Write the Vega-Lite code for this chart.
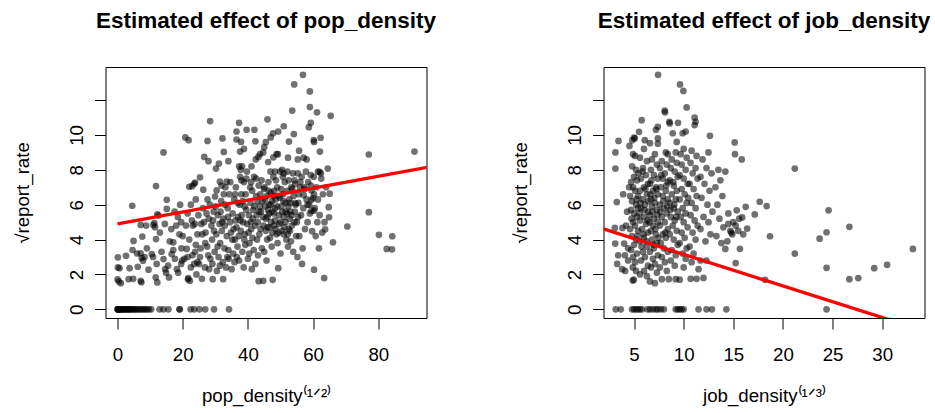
{
"$schema": "https://vega.github.io/schema/vega-lite/v6.json",
"background": "white",
"padding": {"left": 12.5, "top": 9, "right": 2, "bottom": 5},
"spacing": 73,
"config": {
 "font": "Liberation Sans",
 "view": {"stroke": "black", "strokeWidth": 1},
 "axis": {"domain": false, "grid": false, "tickColor": "black", "tickSize": 11, "labelFont": "Liberation Sans", "labelFontSize": 18.7, "labelColor": "black", "titleFont": "Liberation Sans", "titleFontSize": 18.7, "titleFontWeight": "normal", "titleColor": "black"},
 "axisY": {"labelAngle": -90, "labelAlign": "center", "labelBaseline": "alphabetic", "labelPadding": 12, "minExtent": 50, "maxExtent": 50, "titlePadding": 23},
 "axisX": {"labelPadding": 16, "minExtent": 46, "maxExtent": 46, "titlePadding": 22},
 "title": {"font": "Liberation Sans", "fontSize": 22.5, "fontWeight": "bold", "color": "black", "anchor": "middle", "frame": "group", "baseline": "alphabetic", "offset": 34.5}
},
"datasets": {
 "pop": [
{"x":0,"y":0},{"x":0.05,"y":0},{"x":0.1,"y":0},{"x":0.2,"y":0},{"x":0.4,"y":0},{"x":0.6,"y":0},{"x":0.8,"y":0},{"x":1.0,"y":0},{"x":1.3,"y":0},{"x":1.6,"y":0},{"x":1.9,"y":0},{"x":2.2,"y":0},{"x":2.5,"y":0},{"x":2.8,"y":0},{"x":3.1,"y":0},{"x":3.4,"y":0},{"x":3.7,"y":0},{"x":4.0,"y":0},{"x":4.4,"y":0},{"x":4.8,"y":0},{"x":5.2,"y":0},{"x":5.6,"y":0},{"x":6.0,"y":0},{"x":6.5,"y":0},{"x":7.0,"y":0},{"x":7.5,"y":0},{"x":8.0,"y":0},{"x":8.5,"y":0},{"x":9.0,"y":0},{"x":9.6,"y":0},{"x":10.3,"y":0},{"x":12.9,"y":0},{"x":14.1,"y":0},{"x":15.6,"y":0},{"x":19.0,"y":0},{"x":19.1,"y":0},{"x":22.4,"y":0},{"x":23.5,"y":0},{"x":25.1,"y":0},{"x":26.9,"y":0},{"x":29.6,"y":0},{"x":34.2,"y":0},
{"x":0.1,"y":2.98},{"x":0.1,"y":2.4},{"x":0.6,"y":2.36},{"x":0,"y":1.71},{"x":0.4,"y":1.6},{"x":1.0,"y":1.5},{"x":2.6,"y":3.07},{"x":3.7,"y":2.36},{"x":3.4,"y":1.73},{"x":4.8,"y":1.75},{"x":4.6,"y":3.4},{"x":4.5,"y":5.94},{"x":4.9,"y":3.92},
{"x":7.1,"y":4.84},{"x":7.6,"y":4.17},{"x":7.1,"y":3.21},{"x":7.4,"y":2.94},{"x":7.8,"y":2.79},{"x":6.2,"y":2.44},{"x":7.1,"y":1.63},{"x":7.3,"y":1.55},{"x":9.5,"y":2.27},{"x":8.8,"y":4.8},{"x":8.3,"y":3.0},{"x":9.0,"y":3.5},{"x":6.0,"y":3.2},
{"x":11.8,"y":7.07},{"x":12.2,"y":5.44},{"x":11.5,"y":4.71},{"x":11.0,"y":4.84},{"x":11.3,"y":4.95},{"x":11.8,"y":4.03},{"x":10.5,"y":3.17},{"x":10.9,"y":3.0},{"x":12.0,"y":2.6},{"x":11.7,"y":1.83},{"x":12.2,"y":1.54},{"x":14.1,"y":9.0},{"x":14.1,"y":2.88},{"x":14.6,"y":2.3},{"x":14.9,"y":2.1},{"x":13.5,"y":3.3},{"x":12.6,"y":5.38},{"x":13.0,"y":4.4},{"x":14.5,"y":4.9},
{"x":15.1,"y":6.28},{"x":15.1,"y":5.76},{"x":15.8,"y":1.83},{"x":16.6,"y":3.17},{"x":17.1,"y":3.4},{"x":17.1,"y":3.84},{"x":17.6,"y":2.9},{"x":18.2,"y":2.3},{"x":18.6,"y":2.1},{"x":19.5,"y":2.6},{"x":19.8,"y":2.8},{"x":16.0,"y":3.9},{"x":18.0,"y":4.8},{"x":18.5,"y":5.3},{"x":19.0,"y":4.3},{"x":19.5,"y":5.0},{"x":16.5,"y":4.6},{"x":17.5,"y":5.6},{"x":19.2,"y":6.0},{"x":15.5,"y":2.5},{"x":19.6,"y":3.5},
{"x":20.8,"y":9.86},{"x":21.8,"y":9.7},{"x":22.0,"y":7.03},{"x":23.5,"y":7.2},{"x":21.2,"y":3.46},{"x":21.7,"y":1.79},{"x":22.2,"y":1.63},{"x":21.6,"y":1.72},{"x":23.1,"y":4.8},{"x":23.7,"y":4.9},{"x":21.0,"y":4.8},{"x":21.5,"y":5.5},{"x":22.5,"y":6.0},{"x":22.0,"y":4.0},{"x":23.0,"y":3.1},{"x":23.5,"y":2.6},{"x":24.0,"y":3.7},{"x":24.5,"y":4.3},{"x":22.5,"y":2.4},{"x":24.2,"y":2.0},{"x":20.5,"y":2.9},{"x":24.8,"y":5.4},{"x":24.0,"y":6.3},{"x":20.0,"y":4.2},{"x":22.8,"y":5.1},{"x":23.8,"y":3.3},{"x":21.5,"y":3.0},{"x":24.5,"y":2.7},{"x":22.9,"y":7.06},{"x":23.8,"y":7.27},
{"x":25.3,"y":7.57},{"x":26.3,"y":6.86},{"x":26.6,"y":8.74},{"x":27.9,"y":8.5},{"x":27.6,"y":9.66},{"x":28.4,"y":10.8},{"x":29.9,"y":6.47},{"x":25.9,"y":1.75},{"x":29.2,"y":1.73},{"x":25.5,"y":3.5},{"x":26.0,"y":4.3},{"x":26.5,"y":5.0},{"x":27.0,"y":4.4},{"x":27.5,"y":3.6},{"x":28.0,"y":5.2},{"x":28.5,"y":2.9},{"x":29.0,"y":4.0},{"x":29.5,"y":5.6},{"x":25.0,"y":2.6},{"x":26.8,"y":2.4},{"x":27.8,"y":3.1},{"x":28.8,"y":4.8},{"x":29.8,"y":3.3},{"x":26.2,"y":5.8},{"x":28.3,"y":6.0},{"x":29.3,"y":5.1},{"x":25.7,"y":4.9},{"x":27.3,"y":5.5},{"x":29.6,"y":4.5},{"x":26.9,"y":3.8},{"x":28.1,"y":2.3},{"x":29.1,"y":2.6},{"x":25.3,"y":3.0},{"x":27.6,"y":6.3},
{"x":30.2,"y":8.07},{"x":31.1,"y":8.36},{"x":30.4,"y":6.82},{"x":32.6,"y":9.03},{"x":32.2,"y":9.8},{"x":34.0,"y":8.5},{"x":32.4,"y":1.73},{"x":30.5,"y":2.2},{"x":31.0,"y":3.0},{"x":31.5,"y":3.8},{"x":32.0,"y":4.5},{"x":32.5,"y":5.2},{"x":33.0,"y":6.0},{"x":33.5,"y":4.2},{"x":34.0,"y":3.4},{"x":34.5,"y":5.0},{"x":30.8,"y":5.4},{"x":31.3,"y":4.9},{"x":31.8,"y":6.2},{"x":32.3,"y":2.7},{"x":32.8,"y":3.5},{"x":33.3,"y":2.4},{"x":33.8,"y":5.8},{"x":34.3,"y":6.6},{"x":30.3,"y":4.3},{"x":31.6,"y":5.6},{"x":32.9,"y":4.8},{"x":33.7,"y":3.0},{"x":34.8,"y":4.4},{"x":30.7,"y":3.6},{"x":31.9,"y":7.1},{"x":33.1,"y":7.0},{"x":34.6,"y":7.3},{"x":31.4,"y":2.5},{"x":32.6,"y":6.6},{"x":33.9,"y":5.3},{"x":30.1,"y":5.9},{"x":34.1,"y":2.9},{"x":32.1,"y":5.0},{"x":31.4,"y":7.32},{"x":33.5,"y":7.32},
{"x":36.5,"y":10.2},{"x":37.3,"y":10.7},{"x":36.5,"y":9.74},{"x":37.9,"y":9.6},{"x":38.8,"y":9.2},{"x":39.6,"y":10.3},{"x":37.3,"y":8.2},{"x":35.0,"y":2.3},{"x":35.5,"y":3.2},{"x":36.0,"y":4.0},{"x":36.5,"y":4.7},{"x":37.0,"y":5.3},{"x":37.5,"y":6.0},{"x":38.0,"y":6.6},{"x":38.5,"y":5.0},{"x":39.0,"y":4.3},{"x":39.5,"y":5.7},{"x":35.3,"y":5.5},{"x":35.8,"y":6.3},{"x":36.3,"y":7.0},{"x":36.8,"y":3.6},{"x":37.3,"y":2.8},{"x":37.8,"y":4.5},{"x":38.3,"y":3.3},{"x":38.8,"y":7.3},{"x":39.3,"y":6.6},{"x":35.6,"y":4.6},{"x":36.2,"y":5.1},{"x":36.9,"y":6.1},{"x":37.6,"y":7.6},{"x":38.1,"y":5.4},{"x":38.7,"y":2.4},{"x":39.2,"y":3.7},{"x":39.8,"y":4.9},{"x":35.9,"y":2.7},{"x":36.6,"y":3.0},{"x":37.2,"y":4.2},{"x":38.4,"y":6.2},{"x":39.0,"y":5.9},{"x":35.2,"y":4.0},{"x":39.7,"y":7.9},{"x":36.1,"y":6.6},{"x":38.9,"y":4.0},{"x":37.7,"y":5.1},{"x":37.6,"y":9.05},{"x":37.8,"y":8.0},{"x":38.2,"y":8.2},{"x":38.0,"y":7.4},{"x":39.5,"y":7.5},
{"x":41.1,"y":8.2},{"x":42.0,"y":10.3},{"x":42.3,"y":9.64},{"x":43.2,"y":8.74},{"x":44.7,"y":9.0},{"x":43.3,"y":1.61},{"x":44.7,"y":1.63},{"x":40.0,"y":2.9},{"x":40.5,"y":3.8},{"x":41.0,"y":4.6},{"x":41.5,"y":5.2},{"x":42.0,"y":5.9},{"x":42.5,"y":6.5},{"x":43.0,"y":5.0},{"x":43.5,"y":4.3},{"x":44.0,"y":5.6},{"x":44.5,"y":6.2},{"x":40.3,"y":5.4},{"x":40.8,"y":6.1},{"x":41.3,"y":6.8},{"x":41.8,"y":3.4},{"x":42.3,"y":2.6},{"x":42.8,"y":4.0},{"x":43.3,"y":7.1},{"x":43.8,"y":6.6},{"x":44.3,"y":3.5},{"x":44.8,"y":4.8},{"x":40.2,"y":4.4},{"x":41.6,"y":5.7},{"x":42.7,"y":5.4},{"x":43.7,"y":5.9},{"x":44.2,"y":7.4},{"x":40.7,"y":7.0},{"x":41.9,"y":7.6},{"x":43.1,"y":3.1},{"x":44.6,"y":5.3},{"x":40.4,"y":3.2},{"x":42.2,"y":4.8},{"x":43.9,"y":4.6},{"x":41.2,"y":2.3},{"x":44.9,"y":6.9},{"x":42.9,"y":6.2},{"x":40.9,"y":5.0},{"x":43.4,"y":5.6},{"x":41.4,"y":4.1},{"x":41.0,"y":7.3},{"x":42.5,"y":7.5},{"x":42.4,"y":8.6},{"x":43.7,"y":8.9},
{"x":45.5,"y":9.59},{"x":46.0,"y":10.9},{"x":47.0,"y":9.86},{"x":47.7,"y":10.1},{"x":49.3,"y":10.2},{"x":48.8,"y":8.9},{"x":46.2,"y":8.45},{"x":47.8,"y":8.72},{"x":49.3,"y":2.36},{"x":47.6,"y":1.69},{"x":45.0,"y":3.3},{"x":45.5,"y":4.5},{"x":46.0,"y":5.3},{"x":46.5,"y":6.0},{"x":47.0,"y":6.7},{"x":47.5,"y":5.6},{"x":48.0,"y":4.8},{"x":48.5,"y":6.3},{"x":49.0,"y":7.0},{"x":49.5,"y":5.4},{"x":45.3,"y":5.9},{"x":45.8,"y":6.5},{"x":46.3,"y":7.3},{"x":46.8,"y":4.1},{"x":47.3,"y":3.6},{"x":47.8,"y":7.6},{"x":48.3,"y":5.1},{"x":48.8,"y":4.3},{"x":49.8,"y":6.4},{"x":45.1,"y":7.0},{"x":46.6,"y":4.7},{"x":47.1,"y":5.0},{"x":48.1,"y":6.8},{"x":49.1,"y":3.8},{"x":45.7,"y":2.8},{"x":46.9,"y":7.9},{"x":48.6,"y":7.4},{"x":49.6,"y":4.9},{"x":47.4,"y":6.2},{"x":45.9,"y":4.0},{"x":48.4,"y":5.8},{"x":46.2,"y":5.7},{"x":45.0,"y":9.3},{"x":45.5,"y":5.2},{"x":46.0,"y":4.7},{"x":46.5,"y":5.5},{"x":47.0,"y":6.0},{"x":47.5,"y":4.4},{"x":48.0,"y":5.5},{"x":48.5,"y":4.6},{"x":49.0,"y":5.9},{"x":49.5,"y":6.5},{"x":45.2,"y":6.3},{"x":46.4,"y":6.8},{"x":47.9,"y":6.5},{"x":49.4,"y":4.4},{"x":48.3,"y":7.9},{"x":49.9,"y":7.9},{"x":49.2,"y":8.9},
{"x":51.0,"y":10.5},{"x":52.6,"y":9.62},{"x":54.1,"y":10.05},{"x":53.6,"y":11.4},{"x":54.2,"y":12.9},{"x":52.3,"y":8.7},{"x":50.5,"y":8.0},{"x":50.0,"y":3.2},{"x":50.5,"y":4.5},{"x":51.0,"y":5.3},{"x":51.5,"y":6.1},{"x":52.0,"y":6.8},{"x":52.5,"y":7.4},{"x":53.0,"y":5.6},{"x":53.5,"y":4.8},{"x":54.0,"y":6.5},{"x":54.5,"y":7.2},{"x":50.3,"y":5.9},{"x":50.8,"y":6.6},{"x":51.3,"y":7.3},{"x":51.8,"y":4.0},{"x":52.3,"y":3.6},{"x":52.8,"y":5.2},{"x":53.3,"y":7.0},{"x":53.8,"y":7.8},{"x":54.3,"y":5.0},{"x":54.8,"y":4.2},{"x":50.7,"y":7.6},{"x":51.6,"y":5.6},{"x":52.7,"y":6.3},{"x":53.2,"y":3.9},{"x":54.6,"y":6.0},{"x":51.2,"y":4.7},{"x":53.9,"y":3.3},{"x":52.1,"y":7.9},{"x":50.2,"y":6.9},{"x":53.6,"y":6.9},{"x":52.4,"y":5.9},{"x":50.0,"y":5.0},{"x":50.5,"y":5.6},{"x":51.0,"y":4.3},{"x":51.5,"y":5.0},{"x":52.0,"y":5.5},{"x":52.5,"y":4.6},{"x":53.0,"y":6.1},{"x":50.9,"y":6.2},{"x":52.2,"y":4.3},{"x":53.4,"y":5.4},{"x":54.4,"y":5.6},{"x":51.0,"y":7.8},{"x":52.9,"y":4.5},{"x":54.3,"y":7.4},
{"x":55.7,"y":9.1},{"x":57.1,"y":8.7},{"x":58.0,"y":8.6},{"x":56.9,"y":13.45},{"x":59.0,"y":12.5},{"x":59.0,"y":11.6},{"x":59.3,"y":10.7},{"x":58.7,"y":10.45},{"x":60.2,"y":9.7},{"x":57.1,"y":6.55},{"x":59.5,"y":6.82},{"x":60.0,"y":6.38},{"x":59.7,"y":4.48},{"x":55.0,"y":5.0},{"x":55.5,"y":6.1},{"x":56.0,"y":7.0},{"x":56.5,"y":7.6},{"x":57.0,"y":5.8},{"x":57.5,"y":4.6},{"x":58.0,"y":6.3},{"x":58.5,"y":7.3},{"x":59.0,"y":5.5},{"x":55.3,"y":7.8},{"x":55.8,"y":4.2},{"x":56.3,"y":5.4},{"x":56.8,"y":3.5},{"x":57.8,"y":7.9},{"x":58.3,"y":5.0},{"x":59.3,"y":7.7},{"x":55.6,"y":6.6},{"x":57.4,"y":6.9},{"x":56.1,"y":7.3},{"x":58.8,"y":6.0},{"x":55.2,"y":3.0},{"x":56.6,"y":2.6},{"x":55.4,"y":5.3},{"x":55.3,"y":8.6},{"x":58.3,"y":6.0},{"x":59.5,"y":6.28},{"x":59.5,"y":5.66},{"x":54.6,"y":6.09},{"x":57.3,"y":7.0},{"x":59.3,"y":7.1},
{"x":61.2,"y":11.3},{"x":62.3,"y":9.84},{"x":62.1,"y":9.05},{"x":62.0,"y":7.88},{"x":64.5,"y":8.07},{"x":65.4,"y":11.1},{"x":65.1,"y":6.63},{"x":64.8,"y":5.86},{"x":64.9,"y":5.28},{"x":63.7,"y":4.59},{"x":60.3,"y":2.27},{"x":63.4,"y":1.79},{"x":60.5,"y":5.8},{"x":61.0,"y":7.0},{"x":61.5,"y":6.3},{"x":62.0,"y":5.4},{"x":62.5,"y":7.5},{"x":63.0,"y":6.6},{"x":63.5,"y":5.0},{"x":60.8,"y":4.2},{"x":61.8,"y":3.5},{"x":62.8,"y":4.4},{"x":60.2,"y":7.6},{"x":64.0,"y":7.0},{"x":61.3,"y":5.0},{"x":60.3,"y":5.66},{"x":60.3,"y":6.6},{"x":61.5,"y":7.9},{"x":62.4,"y":7.8},{"x":60.3,"y":9.6},
{"x":66.1,"y":3.84},{"x":70.5,"y":4.75},{"x":77.1,"y":8.88},{"x":77.1,"y":5.57},{"x":80.2,"y":4.27},{"x":84.3,"y":4.19},{"x":82.6,"y":3.46},{"x":84.2,"y":3.44},{"x":91.1,"y":9.05}
 ],
 "job": [
{"x":3.15,"y":0},{"x":3.66,"y":0},{"x":4.8,"y":0},{"x":5.0,"y":0},{"x":5.2,"y":0},{"x":5.4,"y":0},{"x":5.6,"y":0},{"x":5.8,"y":0},{"x":6.35,"y":0},{"x":6.6,"y":0},{"x":6.9,"y":0},{"x":7.2,"y":0},{"x":7.4,"y":0},{"x":7.7,"y":0},{"x":8.0,"y":0},{"x":9.2,"y":0},{"x":9.4,"y":0},{"x":9.6,"y":0},{"x":9.8,"y":0},{"x":10.0,"y":0},{"x":11.5,"y":0},{"x":12.3,"y":0},{"x":12.85,"y":0},{"x":14.3,"y":0},{"x":24.4,"y":0},
{"x":3.12,"y":9.0},{"x":3.12,"y":8.07},{"x":3.43,"y":9.66},{"x":3.26,"y":6.15},{"x":3.06,"y":4.67},{"x":3.83,"y":4.67},{"x":3.1,"y":3.77},{"x":4.0,"y":3.77},{"x":3.4,"y":3.1},{"x":4.08,"y":3.1},{"x":3.3,"y":2.6},{"x":3.8,"y":2.3},{"x":4.1,"y":2.2},{"x":4.54,"y":9.37},{"x":4.2,"y":4.8},{"x":4.4,"y":3.5},{"x":4.3,"y":5.6},{"x":3.9,"y":6.6},{"x":4.4,"y":2.8},{"x":4.5,"y":7.0},
{"x":4.83,"y":9.7},{"x":5.0,"y":9.85},{"x":5.07,"y":9.8},{"x":5.5,"y":10.18},{"x":4.9,"y":8.9},{"x":5.1,"y":8.8},{"x":4.8,"y":8.2},{"x":5.2,"y":8.0},{"x":5.0,"y":7.6},{"x":4.7,"y":7.3},{"x":5.3,"y":7.4},{"x":4.9,"y":7.0},{"x":5.1,"y":6.8},{"x":4.6,"y":6.5},{"x":5.4,"y":6.5},{"x":4.8,"y":6.2},{"x":5.2,"y":6.0},{"x":4.7,"y":5.7},{"x":5.0,"y":5.5},{"x":5.3,"y":5.3},{"x":4.9,"y":5.0},{"x":5.1,"y":4.8},{"x":4.6,"y":4.6},{"x":5.4,"y":4.5},{"x":4.8,"y":4.2},{"x":5.2,"y":4.0},{"x":5.0,"y":3.7},{"x":4.7,"y":3.4},{"x":5.3,"y":3.2},{"x":4.9,"y":3.0},{"x":5.1,"y":2.7},{"x":4.87,"y":2.4},{"x":5.2,"y":2.2},{"x":4.87,"y":1.65},{"x":4.97,"y":1.7},{"x":5.4,"y":5.8},{"x":5.45,"y":7.8},{"x":4.75,"y":5.2},{"x":5.25,"y":6.3},{"x":5.35,"y":4.2},
{"x":5.77,"y":10.85},{"x":6.08,"y":9.7},{"x":6.0,"y":9.2},{"x":5.6,"y":8.7},{"x":6.3,"y":8.5},{"x":5.9,"y":8.1},{"x":6.2,"y":7.7},{"x":5.7,"y":7.5},{"x":6.4,"y":7.2},{"x":6.0,"y":7.0},{"x":5.6,"y":6.8},{"x":6.3,"y":6.6},{"x":5.9,"y":6.3},{"x":6.1,"y":6.0},{"x":5.7,"y":5.8},{"x":6.4,"y":5.6},{"x":6.0,"y":5.3},{"x":5.6,"y":5.1},{"x":6.2,"y":4.9},{"x":5.8,"y":4.6},{"x":6.4,"y":4.4},{"x":6.0,"y":4.1},{"x":5.6,"y":3.9},{"x":6.3,"y":3.6},{"x":5.9,"y":3.3},{"x":6.1,"y":3.0},{"x":5.7,"y":2.8},{"x":6.4,"y":2.5},{"x":6.0,"y":2.2},{"x":5.6,"y":2.0},{"x":6.3,"y":1.9},{"x":5.85,"y":7.9},{"x":6.15,"y":6.9},{"x":5.65,"y":6.1},{"x":6.35,"y":5.1},{"x":5.95,"y":4.3},{"x":6.25,"y":3.9},{"x":5.75,"y":3.6},{"x":6.45,"y":6.2},{"x":5.55,"y":5.5},{"x":6.05,"y":5.7},
{"x":7.42,"y":13.45},{"x":7.2,"y":10.3},{"x":7.4,"y":10.47},{"x":7.4,"y":9.8},{"x":7.4,"y":9.5},{"x":6.6,"y":9.53},{"x":7.1,"y":8.9},{"x":6.8,"y":8.6},{"x":7.3,"y":8.3},{"x":6.7,"y":8.0},{"x":7.0,"y":7.7},{"x":7.4,"y":7.5},{"x":6.6,"y":7.2},{"x":7.2,"y":7.0},{"x":6.9,"y":6.8},{"x":7.4,"y":6.6},{"x":6.7,"y":6.3},{"x":7.1,"y":6.1},{"x":6.8,"y":5.9},{"x":7.3,"y":5.7},{"x":6.6,"y":5.4},{"x":7.0,"y":5.2},{"x":7.4,"y":5.0},{"x":6.9,"y":4.8},{"x":6.7,"y":4.5},{"x":7.2,"y":4.3},{"x":6.8,"y":4.0},{"x":7.3,"y":3.8},{"x":7.0,"y":3.5},{"x":6.6,"y":3.3},{"x":7.4,"y":3.1},{"x":6.9,"y":2.9},{"x":7.1,"y":2.6},{"x":6.7,"y":2.4},{"x":7.3,"y":2.1},{"x":6.6,"y":1.6},{"x":7.1,"y":1.5},{"x":6.75,"y":7.4},{"x":7.05,"y":6.4},{"x":6.85,"y":5.6},{"x":7.15,"y":4.6},{"x":6.95,"y":3.7},{"x":7.25,"y":6.9},{"x":6.65,"y":6.6},{"x":7.35,"y":5.4},{"x":6.55,"y":5.0},{"x":7.45,"y":4.1},
{"x":8.09,"y":11.4},{"x":8.12,"y":11.3},{"x":8.2,"y":9.0},{"x":8.4,"y":8.9},{"x":7.8,"y":8.5},{"x":8.3,"y":8.3},{"x":7.6,"y":8.1},{"x":8.1,"y":7.8},{"x":7.9,"y":7.5},{"x":8.4,"y":7.3},{"x":7.7,"y":7.0},{"x":8.2,"y":6.8},{"x":7.9,"y":6.5},{"x":8.4,"y":6.3},{"x":7.6,"y":6.0},{"x":8.0,"y":5.8},{"x":8.3,"y":5.5},{"x":7.8,"y":5.3},{"x":8.1,"y":5.0},{"x":7.6,"y":4.8},{"x":8.4,"y":4.6},{"x":7.9,"y":4.3},{"x":8.2,"y":4.1},{"x":7.7,"y":3.8},{"x":8.0,"y":3.5},{"x":8.4,"y":3.3},{"x":7.8,"y":3.0},{"x":8.1,"y":2.7},{"x":7.6,"y":2.4},{"x":8.3,"y":2.2},{"x":7.8,"y":1.73},{"x":7.95,"y":6.2},{"x":8.25,"y":7.1},{"x":7.65,"y":5.6},{"x":8.15,"y":4.4},{"x":7.75,"y":7.7},{"x":8.35,"y":5.9},
{"x":8.56,"y":10.76},{"x":9.43,"y":10.7},{"x":8.6,"y":10.66},{"x":8.9,"y":10.1},{"x":9.3,"y":9.6},{"x":9.2,"y":9.0},{"x":8.8,"y":8.6},{"x":9.3,"y":8.4},{"x":8.7,"y":8.1},{"x":9.1,"y":7.9},{"x":9.4,"y":7.6},{"x":8.6,"y":7.4},{"x":9.0,"y":7.1},{"x":9.3,"y":6.8},{"x":8.8,"y":6.6},{"x":9.2,"y":6.3},{"x":8.6,"y":6.1},{"x":9.0,"y":5.8},{"x":9.4,"y":5.6},{"x":8.7,"y":5.3},{"x":9.1,"y":5.1},{"x":8.9,"y":4.8},{"x":9.3,"y":4.5},{"x":8.6,"y":4.3},{"x":9.0,"y":4.0},{"x":9.4,"y":3.7},{"x":8.8,"y":3.4},{"x":9.2,"y":3.1},{"x":8.7,"y":2.8},{"x":9.1,"y":2.5},{"x":8.5,"y":1.73},{"x":9.2,"y":1.73},{"x":9.05,"y":6.0},{"x":8.95,"y":7.3},{"x":9.25,"y":5.3},{"x":8.65,"y":5.7},
{"x":9.63,"y":12.9},{"x":9.97,"y":12.53},{"x":10.3,"y":11.58},{"x":10.2,"y":10.2},{"x":9.9,"y":10.1},{"x":10.0,"y":9.2},{"x":9.7,"y":8.9},{"x":10.3,"y":8.7},{"x":9.8,"y":8.3},{"x":10.2,"y":8.0},{"x":9.6,"y":7.7},{"x":10.0,"y":7.5},{"x":10.4,"y":7.2},{"x":9.8,"y":6.9},{"x":10.1,"y":6.6},{"x":9.6,"y":6.3},{"x":10.3,"y":6.1},{"x":9.9,"y":5.8},{"x":10.2,"y":5.5},{"x":9.7,"y":5.3},{"x":10.0,"y":5.0},{"x":10.4,"y":4.7},{"x":9.8,"y":4.4},{"x":10.1,"y":4.1},{"x":9.6,"y":3.8},{"x":10.3,"y":3.5},{"x":9.9,"y":3.2},{"x":10.2,"y":2.9},{"x":9.6,"y":1.7},{"x":10.0,"y":2.4},{"x":10.45,"y":6.4},
{"x":11.1,"y":11.0},{"x":11.2,"y":10.76},{"x":11.1,"y":10.57},{"x":10.8,"y":9.1},{"x":11.3,"y":8.8},{"x":10.7,"y":8.4},{"x":11.2,"y":8.1},{"x":10.9,"y":7.8},{"x":11.4,"y":7.5},{"x":10.6,"y":7.2},{"x":11.0,"y":6.9},{"x":11.3,"y":6.5},{"x":10.8,"y":6.1},{"x":11.2,"y":5.8},{"x":10.7,"y":5.4},{"x":11.1,"y":5.1},{"x":11.4,"y":4.8},{"x":10.9,"y":4.4},{"x":11.2,"y":4.0},{"x":10.6,"y":3.6},{"x":11.0,"y":3.2},{"x":11.5,"y":2.3},{"x":10.8,"y":2.7},{"x":10.7,"y":1.75},{"x":11.3,"y":1.75},
{"x":12.65,"y":9.95},{"x":12.5,"y":9.0},{"x":11.9,"y":8.6},{"x":12.3,"y":8.1},{"x":11.7,"y":7.6},{"x":12.8,"y":7.8},{"x":12.1,"y":7.2},{"x":12.6,"y":6.8},{"x":11.8,"y":6.4},{"x":12.4,"y":6.0},{"x":12.9,"y":5.6},{"x":12.0,"y":5.3},{"x":12.5,"y":5.0},{"x":11.7,"y":4.6},{"x":12.7,"y":4.3},{"x":12.2,"y":3.9},{"x":11.7,"y":2.8},{"x":12.3,"y":2.8},{"x":12.0,"y":1.8},
{"x":13.5,"y":8.0},{"x":13.7,"y":7.4},{"x":14.2,"y":7.9},{"x":13.2,"y":7.0},{"x":13.9,"y":6.5},{"x":13.4,"y":6.0},{"x":14.5,"y":5.5},{"x":13.6,"y":5.2},{"x":14.0,"y":4.7},{"x":14.7,"y":4.5},{"x":13.3,"y":4.2},{"x":14.4,"y":3.9},{"x":13.8,"y":3.8},{"x":14.2,"y":3.46},{"x":14.9,"y":4.3},{"x":14.5,"y":4.9},
{"x":15.14,"y":9.57},{"x":15.17,"y":8.9},{"x":15.85,"y":8.6},{"x":15.34,"y":5.68},{"x":15.6,"y":5.2},{"x":15.9,"y":5.27},{"x":15.24,"y":4.8},{"x":14.8,"y":4.4},{"x":16.0,"y":4.3},{"x":16.4,"y":4.63},{"x":16.25,"y":5.88},{"x":17.16,"y":5.44},{"x":17.66,"y":6.17},{"x":18.36,"y":5.92},{"x":18.7,"y":4.19},{"x":15.67,"y":3.47},{"x":15.24,"y":2.65},{"x":18.2,"y":1.69},{"x":21.2,"y":3.19},{"x":21.2,"y":8.07},{"x":23.7,"y":4.05},{"x":24.4,"y":4.42},{"x":24.6,"y":5.68},{"x":26.7,"y":4.73},{"x":24.4,"y":2.38},{"x":26.7,"y":1.73},{"x":27.6,"y":1.79},{"x":29.2,"y":2.36},{"x":30.5,"y":2.55},{"x":33.1,"y":3.46},{"x":15.5,"y":4.5},{"x":15.0,"y":5.0}
 ],
 "popfit": [{"x":0,"y":4.9},{"x":100,"y":8.31}],
 "jobfit": [{"x":0,"y":4.96},{"x":40,"y":-2.28}]
},
"hconcat": [
 {
  "width": 321, "height": 251,
  "title": "Estimated effect of pop_density",
  "layer": [
   {"data": {"name": "pop"},
    "mark": {"type": "circle", "color": "black", "opacity": 0.56, "size": 45},
    "encoding": {
     "x": {"field": "x", "type": "quantitative", "scale": {"domain": [-3.7, 94.8], "nice": false, "zero": false}, "axis": {"values": [0, 20, 40, 60, 80], "title": "pop_density⁽¹ᐟ²⁾"}},
     "y": {"field": "y", "type": "quantitative", "scale": {"domain": [-0.5, 13.9], "nice": false, "zero": false}, "axis": {"values": [0, 2, 4, 6, 8, 10, 12], "labelExpr": "datum.value == 12 ? '' : datum.label", "title": "√report_rate"}}
    }},
   {"data": {"name": "popfit"},
    "mark": {"type": "line", "color": "#FF0000", "strokeWidth": 3.3, "clip": true},
    "encoding": {"x": {"field": "x", "type": "quantitative"}, "y": {"field": "y", "type": "quantitative"}}}
  ]
 },
 {
  "width": 321, "height": 251,
  "title": "Estimated effect of job_density",
  "layer": [
   {"data": {"name": "job"},
    "mark": {"type": "circle", "color": "black", "opacity": 0.56, "size": 45},
    "encoding": {
     "x": {"field": "x", "type": "quantitative", "scale": {"domain": [1.92, 34.27], "nice": false, "zero": false}, "axis": {"values": [5, 10, 15, 20, 25, 30], "title": "job_density⁽¹ᐟ³⁾"}},
     "y": {"field": "y", "type": "quantitative", "scale": {"domain": [-0.5, 13.9], "nice": false, "zero": false}, "axis": {"values": [0, 2, 4, 6, 8, 10, 12], "labelExpr": "datum.value == 12 ? '' : datum.label", "title": "√report_rate"}}
    }},
   {"data": {"name": "jobfit"},
    "mark": {"type": "line", "color": "#FF0000", "strokeWidth": 3.3, "clip": true},
    "encoding": {"x": {"field": "x", "type": "quantitative"}, "y": {"field": "y", "type": "quantitative"}}}
  ]
 }
]
}
